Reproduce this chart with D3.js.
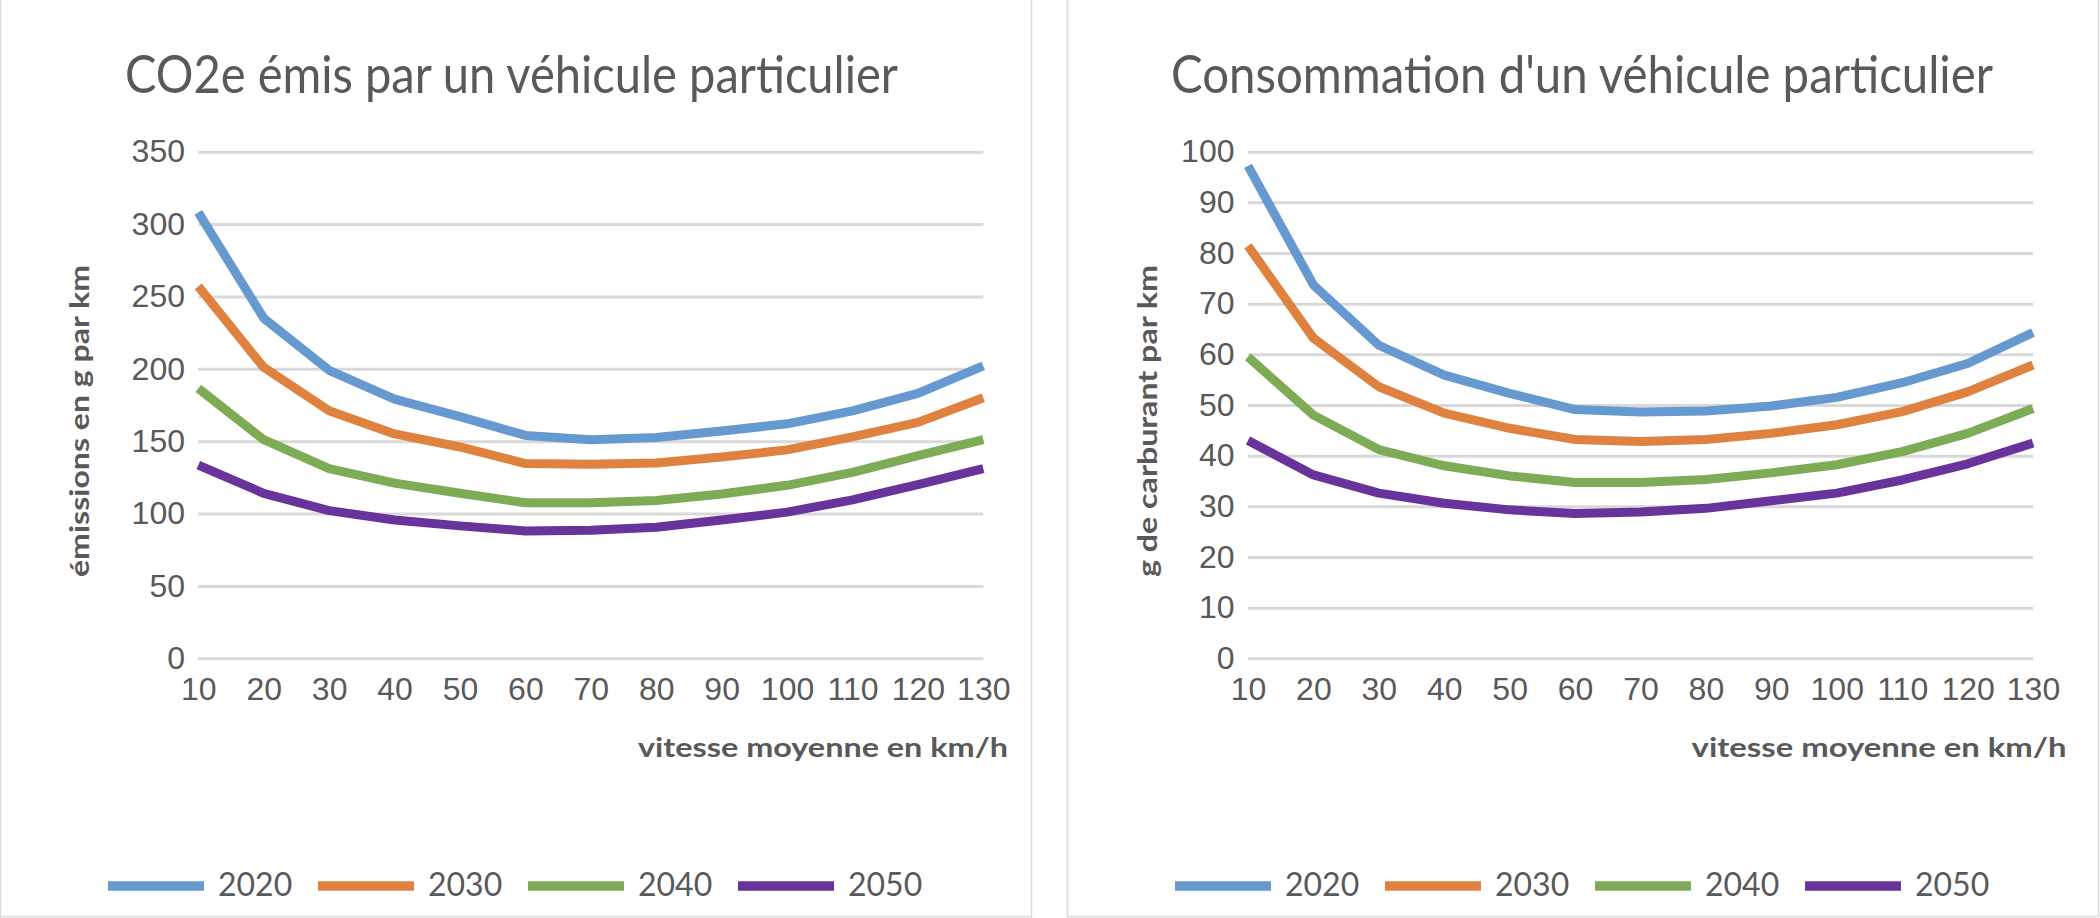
<!DOCTYPE html>
<html>
<head>
<meta charset="utf-8">
<script src="https://cdn.jsdelivr.net/npm/d3@7"></script>
<style>
  body { margin: 0; background: #fff; }
  svg { display: block; font-family: Lato, Carlito, Calibri, sans-serif; }
</style>
</head>
<body>
<svg id="chart" width="2100" height="918"></svg>
<script>
// vitesse moyenne (km/h)
var speeds = [10, 20, 30, 40, 50, 60, 70, 80, 90, 100, 110, 120, 130];
var years = ["2020", "2030", "2040", "2050"];
var colors = ["#6699D0", "#E0823F", "#7EAB55", "#68339A"];

// CO2e émis, g par km
var co2_2020 = [308, 235, 199, 179, 167, 154, 151, 152.5, 157, 162, 171, 183, 202];
var co2_2030 = [257, 201, 171, 155, 146, 134.5, 134, 135, 139, 144, 153, 163, 180];
var co2_2040 = [186.5, 151, 131, 121, 114, 107.5, 107.5, 109, 113.5, 119.5, 128.5, 140, 151];
var co2_2050 = [133.5, 114, 102, 95.5, 91.5, 88, 88.5, 90.5, 95.5, 101, 109.5, 120, 131];

// consommation, g de carburant par km
var fuel_2020 = [97.2, 73.7, 61.8, 55.9, 52.3, 49.1, 48.6, 48.8, 49.8, 51.5, 54.4, 58.2, 64.3];
var fuel_2030 = [81.4, 63.2, 53.6, 48.4, 45.4, 43.2, 42.8, 43.2, 44.4, 46.1, 48.7, 52.6, 57.9];
var fuel_2040 = [59.5, 48, 41.2, 38, 36, 34.7, 34.7, 35.3, 36.6, 38.2, 40.8, 44.4, 49.3];
var fuel_2050 = [43, 36.2, 32.6, 30.6, 29.3, 28.6, 28.9, 29.6, 31.1, 32.6, 35.2, 38.4, 42.5];

var co2Ticks = [0, 50, 100, 150, 200, 250, 300, 350];
var fuelTicks = [0, 10, 20, 30, 40, 50, 60, 70, 80, 90, 100];

var svg = d3.select("#chart");
var textColor = "#595959";

function drawChart(o) {
  var g = svg.append("g");

  // panel border
  g.append("rect").attr("x", o.panelX + 0.5).attr("y", -2).attr("width", 1031).attr("height", 918.5)
    .attr("fill", "#fff").attr("stroke", "#d9d9d9").attr("stroke-width", 1.5);

  var x = d3.scalePoint().domain(speeds).range([o.plotLeft, o.plotRight]);
  var y = d3.scaleLinear().domain([0, o.ticks[o.ticks.length - 1]]).range([658.3, 151.7]);

  // gridlines + y labels
  var yAxis = g.append("g").attr("transform", "translate(" + o.plotLeft + ",0)")
    .call(d3.axisLeft(y).tickValues(o.ticks).tickSize(-(o.plotRight - o.plotLeft)).tickPadding(o.yPad));
  yAxis.select(".domain").remove();
  yAxis.selectAll("line").attr("stroke", "#d9d9d9").attr("stroke-width", 3);
  yAxis.selectAll("text").attr("fill", textColor).style("font-size", "32px").attr("dy", "0.32em");

  // x labels
  var xAxis = g.append("g").attr("transform", "translate(0,658.3)")
    .call(d3.axisBottom(x).tickSize(0).tickPadding(19));
  xAxis.select(".domain").remove();
  xAxis.selectAll("text").attr("fill", textColor).style("font-size", "32px");

  // lines
  var line = d3.line().x(function(d, i) { return x(speeds[i]); }).y(function(d) { return y(d); });
  o.series.forEach(function(s, i) {
    g.append("path").datum(s).attr("d", line).attr("fill", "none")
      .attr("stroke", colors[i]).attr("stroke-width", 9).attr("stroke-linejoin", "round");
  });

  // title
  g.append("text").attr("x", o.titleX + o.titleW / 2).attr("y", 93.3).text(o.title)
    .attr("text-anchor", "middle").attr("fill", textColor).style("font-size", "52px")
    .attr("textLength", o.titleW).attr("lengthAdjust", "spacingAndGlyphs");

  // axis titles
  g.append("text").attr("transform", "translate(" + o.yTitleX + ",421) rotate(-90)")
    .attr("text-anchor", "middle").text(o.yTitle).attr("fill", textColor)
    .style("font-size", "27px").style("font-weight", "bold")
    .attr("textLength", 312).attr("lengthAdjust", "spacingAndGlyphs");
  g.append("text").attr("x", o.xTitleRight).attr("y", 757).attr("text-anchor", "end")
    .text("vitesse moyenne en km/h").attr("fill", textColor)
    .style("font-size", "27px").style("font-weight", "bold")
    .attr("textLength", o.xTitleW).attr("lengthAdjust", "spacingAndGlyphs");

  // legend
  years.forEach(function(yr, i) {
    var lx = o.panelX + 108 + i * 210;
    g.append("line").attr("x1", lx).attr("x2", lx + 96).attr("y1", 886).attr("y2", 886)
      .attr("stroke", colors[i]).attr("stroke-width", 9.3);
    g.append("text").attr("x", lx + 110).attr("y", 896).text(yr)
      .attr("fill", textColor).style("font-size", "32px");
  });
}

drawChart({
  panelX: 0, plotLeft: 198.3, plotRight: 983.3, yPad: 13.3,
  ticks: co2Ticks, series: [co2_2020, co2_2030, co2_2040, co2_2050],
  title: "CO2e émis par un véhicule particulier", titleX: 125, titleW: 773,
  yTitle: "émissions en g par km", yTitleX: 89,
  xTitleRight: 1008, xTitleW: 370
});

drawChart({
  panelX: 1067, plotLeft: 1248, plotRight: 2033, yPad: 13.5,
  ticks: fuelTicks, series: [fuel_2020, fuel_2030, fuel_2040, fuel_2050],
  title: "Consommation d'un véhicule particulier", titleX: 1171, titleW: 822,
  yTitle: "g de carburant par km", yTitleX: 1157,
  xTitleRight: 2066.6, xTitleW: 375
});
</script>
</body>
</html>
